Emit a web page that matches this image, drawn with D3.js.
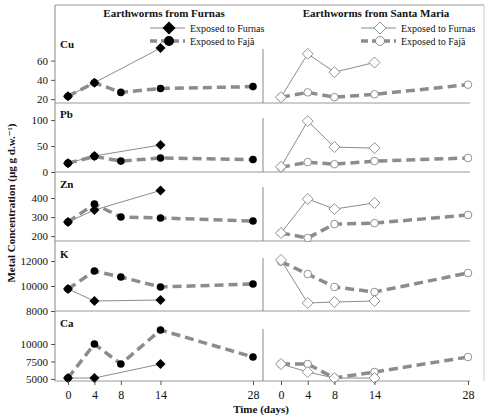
<!DOCTYPE html>
<html>
<head>
<meta charset="utf-8">
<script src="https://d3js.org/d3.v7.min.js"></script>
<style>
    body { margin: 0; background: #fff; }
    svg text { font-family: "Liberation Serif", "DejaVu Serif", serif !important; fill: #111; }
    .bold { font-weight: bold; }
</style>
</head>
<body>
<script>
// data
var metals = ["Cu", "Pb", "Zn", "K", "Ca"];
var days = [0, 4, 8, 14, 28];
var daysLeftFurnas = [0, 4, 14];
var daysRightFurnas = [0, 4, 8, 14];

// earthworms from Furnas
var leftToFurnas = [[23, 37, 73], [17, 31, 52], [274, 337, 440], [9760, 8800, 8880], [5140, 5140, 7140]];
var leftToFaja = [[23, 37, 27, 31, 33], [17, 30, 21, 27, 24], [274, 368, 300, 295, 279],
    [9760, 11200, 10720, 9920, 10160], [5140, 10000, 7140, 12000, 8140]];
// earthworms from Santa Maria
var rightToFurnas = [[22, 67, 48, 58], [10, 98, 48, 46], [216, 395, 342, 374], [12080, 8640, 8720, 8800], [7140, 6000, 5140, 5140]];
var rightToFaja = [[22, 27, 22, 25, 35], [9, 19, 15, 21, 27], [216, 190, 263, 268, 311],
    [11950, 10960, 9920, 9520, 11040], [7140, 7140, 5140, 6000, 8140]];

var yTicks = [[20, 40, 60], [0, 50, 100], [200, 300, 400], [8000, 10000, 12000], [5000, 7500, 10000]];
var yDomains = [[16, 72], [0, 104], [174, 458], [8000, 12240], [4714, 12143]];

// layout
var panelTop = [49, 118, 187, 258, 329];
var panelBottom = [103, 172, 241, 311, 381];
var labelY = [48, 118, 188, 258, 327];
var frameLeft = 55, frameRight = 484, frameTop = 5, axisRight = 470;

var svg = d3.select("body").append("svg")
    .attr("width", 489)
    .attr("height", 420);

var xLeft = d3.scaleLinear().domain([0, 28]).range([68, 253]);
var xRight = d3.scaleLinear().domain([0, 28]).range([281, 468]);

var lineGray = "#8c8c8c";

// frame
svg.append("line").attr("x1", frameLeft).attr("x2", frameRight).attr("y1", frameTop).attr("y2", frameTop)
    .attr("stroke", "#999").attr("stroke-width", 1);
svg.append("line").attr("x1", frameRight).attr("x2", frameRight).attr("y1", frameTop).attr("y2", 381)
    .attr("stroke", "#ccc").attr("stroke-width", 1);
svg.append("line").attr("x1", frameLeft).attr("x2", frameLeft).attr("y1", frameTop).attr("y2", 381)
    .attr("stroke", "#888").attr("stroke-width", 1);

function diamond(s) {
    return "M0," + (-s) + "L" + s + ",0L0," + s + "L" + (-s) + ",0Z";
}

metals.forEach(function(m, i) {
    var y = d3.scaleLinear().domain(yDomains[i]).range([panelBottom[i], panelTop[i]]);

    // left axis
    var ax = svg.append("g")
        .attr("transform", "translate(" + frameLeft + ",0)")
        .call(d3.axisLeft(y).tickValues(yTicks[i]).tickSize(4).tickPadding(3).tickFormat(d3.format("d")));
    ax.select(".domain").remove();
    ax.selectAll(".tick line").attr("stroke", "#555");
    ax.selectAll(".tick text").attr("font-size", "11px");

    // panel bottom line
    svg.append("line").attr("x1", frameLeft).attr("x2", axisRight)
        .attr("y1", panelBottom[i]).attr("y2", panelBottom[i])
        .attr("stroke", "#999").attr("stroke-width", 1);

    // right panel axis line
    svg.append("line").attr("x1", 263).attr("x2", 263)
        .attr("y1", y.range()[1]).attr("y2", y.range()[0])
        .attr("stroke", "#888").attr("stroke-width", 1);

    svg.append("text").attr("class", "bold")
        .attr("x", 60).attr("y", labelY[i])
        .attr("font-size", "11px")
        .text(m);

    var solid = d3.line().x(function(d) { return d.x; }).y(function(d) { return y(d.v); });

    function series(xs, dayList, vals, dashed) {
        var pts = dayList.map(function(d, k) { return {x: xs(d), v: vals[k]}; });
        svg.append("path")
            .datum(pts)
            .attr("fill", "none")
            .attr("stroke", lineGray)
            .attr("stroke-width", dashed ? 3.5 : 1)
            .attr("stroke-dasharray", dashed ? "9,5" : null)
            .attr("d", solid);
        return pts;
    }

    var lf = series(xLeft, daysLeftFurnas, leftToFurnas[i], false);
    var lj = series(xLeft, days, leftToFaja[i], true);
    var rf = series(xRight, daysRightFurnas, rightToFurnas[i], false);
    var rj = series(xRight, days, rightToFaja[i], true);

    svg.selectAll(null).data(lj).enter().append("circle")
        .attr("cx", function(d) { return d.x; }).attr("cy", function(d) { return y(d.v); })
        .attr("r", 3.8).attr("fill", "#000");
    svg.selectAll(null).data(lf).enter().append("path")
        .attr("transform", function(d) { return "translate(" + d.x + "," + y(d.v) + ")"; })
        .attr("d", diamond(5)).attr("fill", "#000");
    svg.selectAll(null).data(rj).enter().append("circle")
        .attr("cx", function(d) { return d.x; }).attr("cy", function(d) { return y(d.v); })
        .attr("r", 3.8).attr("fill", "#fff").attr("stroke", "#777").attr("stroke-width", 0.8);
    svg.selectAll(null).data(rf).enter().append("path")
        .attr("transform", function(d) { return "translate(" + d.x + "," + y(d.v) + ")"; })
        .attr("d", diamond(5.5)).attr("fill", "#fff").attr("stroke", "#777").attr("stroke-width", 0.8);
});

// bottom axes
[xLeft, xRight].forEach(function(xs) {
    var g = svg.append("g")
        .attr("transform", "translate(0,381)")
        .call(d3.axisBottom(xs).tickValues(days).tickSize(4).tickPadding(5));
    g.select(".domain").remove();
    g.selectAll(".tick line").attr("stroke", "#555");
    g.selectAll(".tick text").attr("font-size", "12px");
});

// titles
svg.append("text").attr("class", "bold").attr("x", 164).attr("y", 17)
    .attr("text-anchor", "middle").attr("font-size", "11px").text("Earthworms from Furnas");
svg.append("text").attr("class", "bold").attr("x", 376).attr("y", 17)
    .attr("text-anchor", "middle").attr("font-size", "11px").text("Earthworms from Santa Maria");

// legends
function legend(x0, filled) {
    var rows = [{label: "Exposed to Furnas", dashed: false, y: 28}, {label: "Exposed to Fajã", dashed: true, y: 41}];
    rows.forEach(function(r) {
        svg.append("line").attr("x1", x0).attr("x2", x0 + 35).attr("y1", r.y).attr("y2", r.y)
            .attr("stroke", lineGray).attr("stroke-width", r.dashed ? 3.5 : 1)
            .attr("stroke-dasharray", r.dashed ? "7,4" : null);
        if (r.dashed) {
            svg.append("circle").attr("cx", x0 + 19).attr("cy", r.y).attr("r", filled ? 5 : 4.5)
                .attr("fill", filled ? "#000" : "#fff").attr("stroke", filled ? null : "#777").attr("stroke-width", 0.8);
        } else {
            svg.append("path").attr("transform", "translate(" + (x0 + 19) + "," + r.y + ")")
                .attr("d", diamond(filled ? 6.5 : 6))
                .attr("fill", filled ? "#000" : "#fff").attr("stroke", filled ? null : "#777").attr("stroke-width", 0.8);
        }
        svg.append("text").attr("x", x0 + 40).attr("y", r.y + 3.5)
            .attr("font-size", "10px").text(r.label);
    });
}
legend(150, true);
legend(361, false);

// axis titles
svg.append("text").attr("class", "bold")
    .attr("transform", "translate(15,203) rotate(-90)")
    .attr("text-anchor", "middle").attr("font-size", "11px")
    .text("Metal Concentration (µg g d.w.⁻¹)");
svg.append("text").attr("class", "bold").attr("x", 261).attr("y", 413)
    .attr("text-anchor", "middle").attr("font-size", "11px").text("Time (days)");
</script>
</body>
</html>
